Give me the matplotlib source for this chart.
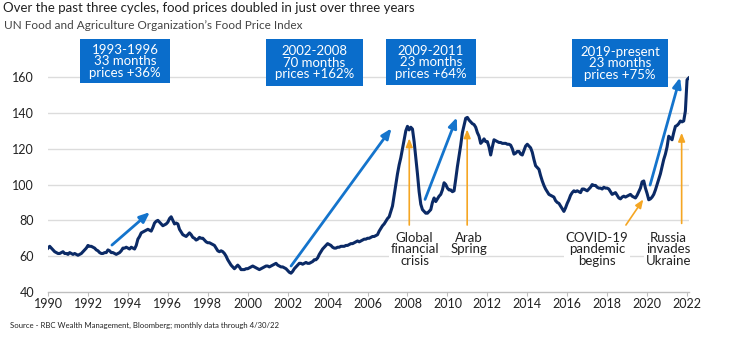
import numpy as np
import matplotlib.pyplot as plt
from matplotlib.patches import Rectangle

# FAO Food Price Index, monthly (Jan 1990 onward)
fpi_1990s = [
    64.5, 65.5, 64.5, 63.5, 62.5, 62, 61.5, 61.5, 62, 62.5, 61.5, 61.5,
    61, 62, 61.5, 61, 61.5, 61, 60.5, 61, 61.5, 62.5, 63.5, 64.5,
    66, 65.5, 65.5, 65, 64.5, 63.5, 63, 62, 61.5, 61.5, 62, 62,
    63.5, 63, 62, 62, 61.5, 61, 61.5, 62, 63, 64.5, 64.5, 65,
    64.5, 64, 65, 64.5, 64, 66, 69.5, 71, 73, 73.5, 74, 74.5,
    75, 74.5, 74, 76, 78.5, 79.5, 80, 79, 78, 77, 77.5, 78,
    79, 81, 82, 80, 78, 78.5, 78, 75, 73.5, 72, 71.5, 71,
    72, 73, 72, 70.5, 70, 69, 69.5, 70.5, 70, 70, 69, 68,
    67.5, 67.5, 67, 66.5, 66, 64.5, 63, 62.5, 63, 62.5, 61.5, 60,
    58, 56.5, 55, 54, 53, 54, 55, 54, 52.5, 52.5, 52.5, 53,
]
fpi_2000s = [
    53, 53.5, 54, 54.5, 54, 53.5, 53, 52.5, 53, 53.5, 54, 54.5,
    54.5, 54, 54.5, 55, 55.5, 56, 55, 54.5, 54, 54, 53.5, 53,
    52, 51, 50.5, 51.5, 53, 54, 55, 56, 56, 55.5, 56, 56.5,
    56, 56, 56.5, 57, 58, 58, 59, 61, 62.5, 64, 65, 66,
    67, 66.5, 66, 65, 64.5, 64.5, 65, 65, 65.5, 65.5, 65.5, 66,
    66, 66.5, 67, 67, 67.5, 68, 68.5, 68, 68.5, 69, 69.5, 69.5,
    70, 70, 70.5, 71, 71, 71.5, 72, 74, 75.5, 77, 78, 79.5,
    81, 82, 85, 88, 94, 100, 106, 111, 115, 120, 125, 130,
    132.5, 130.5, 132, 131, 124, 115, 106, 96, 89, 86, 85, 84,
    84, 85, 86, 90, 92.5, 90.5, 92, 93.5, 94.5, 97, 101, 100,
]
fpi_2010s = [
    98, 97, 97, 96, 96.5, 103, 110, 116, 122, 129, 133, 137,
    137.5, 136, 135, 134, 133.5, 132, 129, 127, 123, 124, 125.5, 124,
    124, 121, 116.5, 121, 125, 124.5, 124, 123.5, 123.5, 123, 123, 123,
    122.5, 122.5, 122, 120, 117, 117.5, 118.5, 118.5, 117, 116.5, 119, 121.5,
    122.5, 121.5, 120.5, 118, 114, 110.5, 109.5, 108.5, 105, 102, 99.5, 97.5,
    96, 94.5, 94, 93.5, 93, 91, 90, 89.5, 88, 86.5, 85, 87,
    89.5, 91.5, 94, 95.5, 96.5, 96, 96.5, 96, 95.5, 97.5, 97.5, 97,
    96.5, 97.5, 98.5, 100, 99.5, 99.5, 98.5, 98, 98, 97.5, 98.5, 98,
    98, 97.5, 96, 94.5, 95, 95.5, 94, 92.5, 92, 93, 93.5, 93,
    93.5, 94, 94.5, 93.5, 93, 92.5, 94, 96, 98, 101.5, 102, 98,
]
fpi_2020s = [
    95, 91.5, 92, 93, 94.5, 97, 100, 103, 106, 110, 114, 117,
    121, 127, 126, 125, 129, 132.5, 133, 134, 135.5, 135, 135.5, 141,
    158.5, 159.5,
]

cycle_labels = [
    "1993-1996\n33 months\nprices +36%",
    "2002-2008\n70 months\nprices +162%",
    "2009-2011\n23 months\nprices +64%",
    "2019-present\n23 months\nprices +75%",
]
# trend arrows for each cycle: (start year, start value, end year, end value)
cycle_arrows = [
    (1993.2, 66.2, 1995.1, 84.6),
    (2002.17, 54.5, 2007.2, 131.4),
    (2008.88, 91.7, 2010.47, 137.5),
    (2020.15, 99.7, 2021.65, 159.8),
]
event_labels = [
    "Global\nfinancial\ncrisis",
    "Arab\nSpring",
    "COVID-19\npandemic\nbegins",
    "Russia\ninvades\nUkraine",
]
# event arrows: (tail year, tail value, head year, head value)
event_arrows = [
    (2008.09, 77.4, 2008.09, 125.8),
    (2010.99, 77.4, 2010.99, 130.8),
    (2018.94, 77.4, 2019.81, 91.7),
    (2021.73, 78.3, 2021.73, 128.9),
]

fpi = np.array(fpi_1990s + fpi_2000s + fpi_2010s + fpi_2020s)
dates = 1990 + np.arange(len(fpi)) / 12

NAVY = "#0b2a66"
ARROW_BLUE = "#1474cc"
BOX_BLUE = "#0a6dcb"
ORANGE = "#f5a623"
TXT = "#222222"

plt.rcParams["font.family"] = ["Lato", "DejaVu Sans"]

fig = plt.figure(figsize=(7.47, 3.44), dpi=100)
ax = fig.add_axes([0.0643, 0.1512, 0.9224 - 0.0643, 0.906 - 0.1512])

ax.plot(dates, fpi, color=NAVY, lw=2.2, zorder=4, solid_joinstyle="round")

ax.set_xlim(1990, 2022.1)
ax.set_ylim(40, 185)
ax.set_xticks(range(1990, 2023, 2))
ax.set_yticks(range(40, 161, 20))
ax.tick_params(axis="x", length=3, color="#bfbfbf", labelsize=9,
               labelcolor=TXT, pad=1)
ax.tick_params(axis="y", length=0, labelsize=9, labelcolor=TXT, pad=10)
for s in ["top", "right", "left"]:
    ax.spines[s].set_visible(False)
ax.spines["bottom"].set_color("#bfbfbf")
ax.spines["bottom"].set_linewidth(1.0)
for v in range(60, 161, 20):
    ax.axhline(v, color="#dcdcdc", lw=1.0, zorder=0)

# cycle trend arrows
for x0, y0, x1, y1 in cycle_arrows:
    ax.annotate("", xy=(x1, y1), xytext=(x0, y0), zorder=5,
                arrowprops=dict(arrowstyle="-|>,head_length=0.6,head_width=0.25",
                                color=ARROW_BLUE, lw=2.0, shrinkA=0, shrinkB=0))

# cycle boxes (left, right, bottom, top in data units)
box_extents = [
    (1991.6, 1996.11, 156.6, 181.2),
    (2000.92, 2005.77, 155.0, 181.2),
    (2006.93, 2011.43, 155.5, 181.2),
    (2016.24, 2021.05, 154.4, 181.2),
]
for label, (l, r, b, t) in zip(cycle_labels, box_extents):
    ax.add_patch(Rectangle((l, b), r - l, t - b, facecolor=BOX_BLUE,
                           edgecolor="none", zorder=6, clip_on=False))
    ax.text((l + r) / 2, (b + t) / 2, label, ha="center", va="center",
            color="white", fontsize=9.5, linespacing=0.95, zorder=7)

# event arrows and labels
event_text_pos = [(2008.36, 63.8), (2011.06, 67.2), (2017.48, 63.8), (2021.06, 63.8)]
for label, (x0, y0, x1, y1), (tx, ty) in zip(event_labels, event_arrows, event_text_pos):
    ax.annotate("", xy=(x1, y1), xytext=(x0, y0), zorder=3,
                arrowprops=dict(arrowstyle="-|>,head_length=0.5,head_width=0.2",
                                color=ORANGE, lw=1.2, shrinkA=0, shrinkB=0))
    ax.text(tx, ty, label, ha="center", va="center", color=TXT, fontsize=9.5,
            linespacing=0.95, zorder=3,
            bbox=dict(facecolor="white", edgecolor="none", pad=1.0))

fig.text(0.004, 0.978, "Over the past three cycles, food prices doubled in just over three years",
         ha="left", va="center", fontsize=9.5, color=TXT)
fig.text(0.006, 0.927, "UN Food and Agriculture Organization\u2019s Food Price Index",
         ha="left", va="center", fontsize=8.5, color="#444444")
fig.text(0.013, 0.055, "Source - RBC Wealth Management, Bloomberg; monthly data through 4/30/22",
         ha="left", va="center", fontsize=5.6, color=TXT)

fig.savefig("out.png", dpi=100)
